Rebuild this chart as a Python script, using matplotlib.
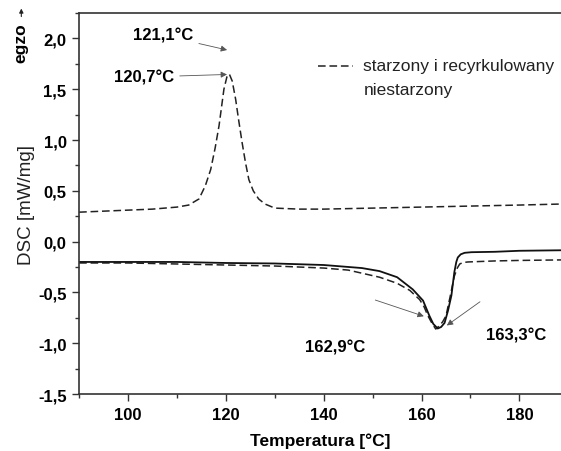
import matplotlib
matplotlib.use("Agg")
import matplotlib.pyplot as plt
from matplotlib.ticker import MultipleLocator, FuncFormatter

plt.rcParams["font.family"] = ["Liberation Sans", "DejaVu Sans"]

# crystallisation (cooling) curve - starzony i recyrkulowany
cool_t = [90, 95, 100, 105, 110, 112.4, 114.5, 115.8, 116.9, 117.8, 118.6,
          119.6, 120.2, 120.7, 121.3, 122.0, 122.6, 123.3, 124.0, 124.7,
          125.6, 126.7, 128.0, 130, 135, 140, 150, 160, 170, 180, 188.5]
cool_v = [0.29, 0.30, 0.31, 0.32, 0.34, 0.36, 0.42, 0.55, 0.71, 0.92, 1.14,
          1.50, 1.62, 1.65, 1.58, 1.40, 1.20, 0.98, 0.78, 0.61,
          0.50, 0.42, 0.37, 0.33, 0.32, 0.32, 0.33, 0.34, 0.35, 0.36, 0.37]

# melting curve - starzony i recyrkulowany (dashed)
aged_t = [90, 100, 110, 120, 130, 140, 145, 151.4, 155, 157.6, 159.6, 160.5,
          161.3, 162.2, 162.9, 163.6, 164.3, 165.0, 165.8, 166.7, 167.3,
          167.8, 168.5, 169.5, 175, 180, 188.5]
aged_v = [-0.21, -0.21, -0.22, -0.23, -0.24, -0.26, -0.28, -0.35, -0.41,
          -0.48, -0.57, -0.64, -0.73, -0.81, -0.86, -0.83, -0.79, -0.73,
          -0.55, -0.34, -0.26, -0.22, -0.205, -0.20, -0.19, -0.185, -0.18]

# melting curve - niestarzony (solid)
fresh_t = [90, 100, 110, 120, 130, 140, 147.8, 151.4, 155, 158.2, 160.3,
           161.6, 162.4, 163.3, 164.0, 164.7, 165.4, 166.1, 166.7, 167.1,
           167.4, 168.0, 168.8, 170.2, 175, 180, 188.5]
fresh_v = [-0.20, -0.20, -0.20, -0.21, -0.215, -0.23, -0.26, -0.29, -0.35,
           -0.47, -0.58, -0.73, -0.81, -0.855, -0.84, -0.80, -0.68, -0.53,
           -0.30, -0.20, -0.156, -0.125, -0.11, -0.104, -0.10, -0.09, -0.085]

fig = plt.figure(figsize=(5.61, 4.52), dpi=100)
ax = fig.add_axes([0.141, 0.126, 0.859, 0.843])

dash = (0, (5, 2.5))
ax.plot(cool_t, cool_v, color="#222222", linewidth=1.1, linestyle=dash)
ax.plot(aged_t, aged_v, color="#222222", linewidth=1.1, linestyle=dash)
ax.plot(fresh_t, fresh_v, color="#111111", linewidth=1.3)

ax.set_xlim(90, 188.5)
ax.set_ylim(-1.5, 2.25)

ax.xaxis.set_major_locator(MultipleLocator(20))
ax.xaxis.set_minor_locator(MultipleLocator(10))
ax.yaxis.set_major_locator(MultipleLocator(0.5))
ax.yaxis.set_minor_locator(MultipleLocator(0.25))
ax.yaxis.set_major_formatter(FuncFormatter(lambda v, p: f"{v:.1f}".replace(".", ",")))

ax.tick_params(which="both", direction="out", top=False, right=False,
               width=1.0, color="#333333")
ax.tick_params(which="major", length=5, labelsize=12, pad=4)
ax.tick_params(which="minor", length=3)
for lbl in ax.get_xticklabels() + ax.get_yticklabels():
    lbl.set_fontweight("bold")

for side in ["left", "bottom", "top"]:
    ax.spines[side].set_linewidth(1.2)
    ax.spines[side].set_color("#333333")
ax.spines["right"].set_visible(False)

ax.set_xlabel("Temperatura [°C]", fontsize=12.5, fontweight="bold", labelpad=8)
ax.set_ylabel("DSC [mW/mg]", fontsize=13.5, labelpad=2, color="#222222")

# exo marker
fig.text(0.038, 0.905, "egzo", rotation=90, fontsize=12.5, fontweight="bold",
         ha="center", va="center")
ax.annotate("", xy=(0.038, 0.985), xytext=(0.038, 0.955),
            xycoords="figure fraction", textcoords="figure fraction",
            arrowprops=dict(arrowstyle="-|>", color="#222222", lw=0.8,
                            mutation_scale=6))

# peak annotations
arrow = dict(arrowstyle="-|>", color="#555555", lw=0.6, mutation_scale=9)
ax.annotate("121,1°C", xy=(120.8, 1.88), xytext=(107.2, 2.03),
            ha="center", va="center", fontsize=12, fontweight="bold",
            arrowprops=arrow)
ax.annotate("120,7°C", xy=(120.8, 1.646), xytext=(103.3, 1.62),
            ha="center", va="center", fontsize=12, fontweight="bold",
            arrowprops=arrow)
ax.annotate("", xy=(161.0, -0.743), xytext=(150.0, -0.566),
            arrowprops=arrow)
ax.text(142.4, -1.04, "162,9°C", ha="center", va="center",
        fontsize=12, fontweight="bold")
ax.annotate("", xy=(164.7, -0.841), xytext=(172.4, -0.576), arrowprops=arrow)
ax.text(179.4, -0.92, "163,3°C", ha="center", va="center",
        fontsize=12, fontweight="bold")

# legend as drawn in the source (no sample for solid line)
ax.plot([0.495, 0.568], [0.861, 0.861], transform=ax.transAxes,
        color="#222222", linewidth=1.1, linestyle=dash)
ax.text(0.590, 0.861, "starzony i recyrkulowany", transform=ax.transAxes,
        fontsize=12.5, va="center", ha="left", color="#222222")
ax.text(0.590, 0.800, "niestarzony", transform=ax.transAxes,
        fontsize=12.5, va="center", ha="left", color="#222222")

fig.savefig("out.png", dpi=100)
